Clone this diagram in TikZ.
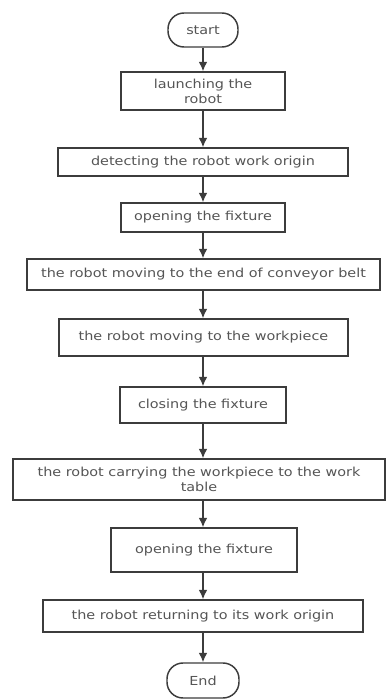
\documentclass[tikz,border=0pt]{standalone}
\usepackage{fontspec}
\setmainfont[FakeStretch=1.16]{DejaVu Sans}
\usetikzlibrary{arrows.meta}
\definecolor{linec}{HTML}{3C3C3C}
\definecolor{textc}{HTML}{555555}
\tikzset{
  sz/.style 2 args={minimum width=#1*0.75pt, minimum height=#2*0.75pt},
  proc/.style={draw=linec, line width=1.1pt, fill=white, inner sep=0pt,
    align=center, text=textc, font=\fontsize{9.3}{11.25}\selectfont},
  term/.style={proc, rounded corners=12pt},
  flow/.style={draw=linec, line width=1.1pt, -{Latex[length=7pt,width=6.5pt]}}
}
\begin{document}
\begin{tikzpicture}[x=0.75pt,y=-0.75pt]
\useasboundingbox (0,0) rectangle (387,700);
\node[term, sz={70}{34}] (start) at (203,30) {start};
\node[proc, sz={164}{38}] (launch) at (203,91) {launching the\\robot};
\node[proc, sz={290}{28}] (detect) at (203,162) {detecting the robot work origin};
\node[proc, sz={164}{29}] (open1) at (203,217.5) {opening the fixture};
\node[proc, sz={353}{31}] (conv) at (203.5,274.5) {the robot moving to the end of conveyor belt};
\node[proc, sz={289}{37}] (wp) at (203.5,337.5) {the robot moving to the workpiece};
\node[proc, sz={166}{36}] (close) at (203,405) {closing the fixture};
\node[proc, sz={372}{41}] (carry) at (199,479.5) {the robot carrying the workpiece to the work\\table};
\node[proc, sz={186}{44}] (open2) at (204,550) {opening the fixture};
\node[proc, sz={320}{32}] (ret) at (203,616) {the robot returning to its work origin};
\node[term, sz={72}{35}] (end) at (203,680.5) {End};
\draw[flow] (start) -- (launch);
\draw[flow] (launch) -- (detect);
\draw[flow] (detect) -- (open1);
\draw[flow] (open1) -- (conv.north -| open1);
\draw[flow] (conv.south -| open1) -- (wp.north -| open1);
\draw[flow] (wp.south -| open1) -- (close);
\draw[flow] (close) -- (carry.north -| close);
\draw[flow] (carry.south -| close) -- (open2.north -| close);
\draw[flow] (open2.south -| close) -- (ret);
\draw[flow] (ret) -- (end);
\end{tikzpicture}
\end{document}
